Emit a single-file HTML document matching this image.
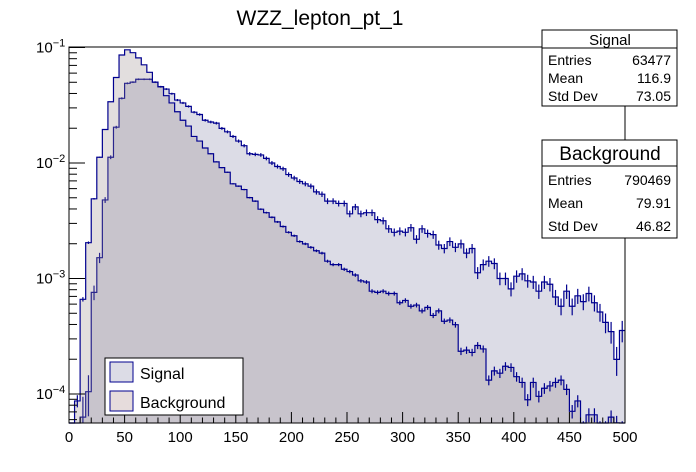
<!DOCTYPE html>
<html><head><meta charset="utf-8"><style>
body{margin:0;background:#fff;}
svg{display:block;font-family:"Liberation Sans",Arial,sans-serif;}
</style></head><body>
<svg id="c" width="696" height="472" viewBox="0 0 696 472">
<rect x="0" y="0" width="696" height="472" fill="#fff"/>
<text x="320" y="25" font-size="21" text-anchor="middle">WZZ_lepton_pt_1</text>
<g id="hist"></g>
<g id="axes"></g>
</svg>
<script>
const xTicks=[0,50,100,150,200,250,300,350,400,450,500];
const yDecades=[-1,-2,-3,-4];
const sigLog=[-5,-5,-4.2,-3.98,-3.12,-2.82,-2.32,-1.95,-1.69,-1.44,
-1.31,-1.30,-1.275,-1.275,-1.275,-1.30,-1.34,-1.36,-1.40,-1.455,
-1.48,-1.51,-1.56,-1.58,-1.63,-1.645,-1.655,-1.70,-1.73,-1.77,
-1.81,-1.85,-1.92,-1.925,-1.93,-1.96,-2.0,-2.03,-2.05,-2.10,
-2.13,-2.16,-2.18,-2.20,-2.25,-2.27,-2.33,-2.33,-2.35,-2.35,
-2.44,-2.38,-2.44,-2.43,-2.43,-2.49,-2.50,-2.57,-2.60,-2.59,
-2.60,-2.56,-2.66,-2.57,-2.61,-2.62,-2.71,-2.74,-2.68,-2.73,
-2.70,-2.78,-2.74,-2.95,-2.88,-2.85,-2.87,-3.00,-3.00,-3.09,
-2.98,-2.96,-3.02,-3.03,-3.11,-3.03,-3.05,-3.16,-3.24,-3.11,
-3.24,-3.15,-3.20,-3.13,-3.21,-3.29,-3.38,-3.46,-3.70,-3.45];
const bkgLog=[-5,-4.06,-3.18,-2.69,-2.31,-1.95,-1.71,-1.47,-1.26,-1.065,
-1.02,-1.045,-1.09,-1.15,-1.215,-1.30,-1.34,-1.417,-1.48,-1.556,
-1.63,-1.68,-1.77,-1.81,-1.87,-1.92,-1.99,-2.04,-2.08,-2.18,
-2.20,-2.23,-2.30,-2.33,-2.40,-2.43,-2.47,-2.51,-2.55,-2.60,
-2.63,-2.68,-2.70,-2.73,-2.76,-2.78,-2.85,-2.88,-2.88,-2.92,
-2.94,-2.97,-3.02,-3.03,-3.11,-3.12,-3.11,-3.13,-3.13,-3.21,
-3.19,-3.24,-3.23,-3.28,-3.25,-3.32,-3.28,-3.37,-3.36,-3.40,
-3.63,-3.62,-3.64,-3.58,-3.61,-3.88,-3.80,-3.82,-3.76,-3.77,
-3.85,-3.90,-4.05,-3.90,-4.02,-3.95,-3.93,-3.90,-3.88,-3.96,
-4.15,-4.06,-4.3,-4.18,-4.18,-4.3,-4.3,-4.2,-4.25,-4.3];
const sigEntries=63477, bkgEntries=790469;

const X0=69,X1=625,Y0=47,Y1=423,BW=5;
const NS='http://www.w3.org/2000/svg';
function xs(v){return X0+(v/500)*(X1-X0);}
function ys(l){let y=47.5+(-1-l)*115.5;return Math.max(Y0,Math.min(Y1,y));}
function mk(t,a,p){const e=document.createElementNS(NS,t);for(const k in a)e.setAttribute(k,a[k]);p.appendChild(e);return e;}
const H=document.getElementById('hist'),A=document.getElementById('axes');

function drawHist(arr,fill,name,entries){
  let d='M'+xs(0)+','+Y1;
  for(let i=0;i<arr.length;i++){const y=ys(arr[i]);d+=' L'+xs(i*BW)+','+y+' L'+xs((i+1)*BW)+','+y;}
  d+=' L'+xs(arr.length*BW)+','+Y1+' Z';
  const f=mk('path',{d:d,fill:fill},H);
  
  
  let ld='';
  for(let i=0;i<arr.length;i++){const y=ys(arr[i]);ld+=(i?' L':'M')+xs(i*BW)+','+y+' L'+xs((i+1)*BW)+','+y;}
  const l=mk('path',{d:ld,fill:'none',stroke:'#00008f','stroke-width':1.2},H);
  
  
  for(let i=0;i<arr.length;i++){
    if(arr[i]<-4.4)continue;
    const v=Math.pow(10,arr[i]);const n=v*entries;const r=1/Math.sqrt(Math.max(n,1));
    const hi=Math.log10(v*(1+r)),lo=Math.log10(Math.max(v*(1-r),1e-6));
    const cx=xs(i*BW+BW/2);
    const e=mk('line',{x1:cx,x2:cx,y1:ys(hi),y2:ys(lo),stroke:'#00008f','stroke-width':1.2},H);
    
    
  }
}
drawHist(sigLog,'#dcdce6','signal-hist',sigEntries);
drawHist(bkgLog,'rgba(150,135,138,0.28)','background-hist',bkgEntries);

const fr=mk('rect',{x:X0,y:Y0,width:X1-X0,height:Y1-Y0,fill:'none',stroke:'#000','stroke-width':1},A);


for(let v=0;v<=500;v+=10){
  const major=v%50===0;
  const t=mk('line',{x1:xs(v),x2:xs(v),y1:Y1,y2:Y1-(major?11:5.5),stroke:'#000'},A);
  
  
}
xTicks.forEach(v=>{
  const t=mk('text',{x:xs(v),y:442,'font-size':15,'text-anchor':'middle'},A);
  t.textContent=v;
  
  
});
yDecades.forEach(dcd=>{
  const y=ys(dcd);
  const t=mk('line',{x1:X0,x2:X0+16,y1:y,y2:y,stroke:'#000'},A);
  
  
  for(let m=2;m<=9;m++){
    const ym=47.5+(-1-(dcd-1+Math.log10(m)))*115.5;
    if(ym<Y0||ym>Y1)continue;
    const mt=mk('line',{x1:X0,x2:X0+8,y1:ym,y2:ym,stroke:'#000'},A);
    
    
  }
  const lab=mk('text',{x:36,y:y+5,'font-size':15},A);
  
  
  lab.innerHTML='10<tspan dy="-6" font-size="11">\u2212'+(-dcd)+'</tspan>';
});
</script>
<svg style="position:absolute;left:0;top:0" width="696" height="472">
<g font-family="Liberation Sans,Arial,sans-serif">
<g>
<rect x="542" y="30" width="135" height="76" fill="#fff" stroke="#000"/>
<line x1="542" y1="48" x2="677" y2="48" stroke="#000"/>
<text x="610" y="45" font-size="15" text-anchor="middle">Signal</text>
<text x="548" y="65" font-size="14">Entries</text><text x="671" y="65" font-size="14" text-anchor="end">63477</text>
<text x="548" y="83" font-size="14">Mean</text><text x="671" y="83" font-size="14" text-anchor="end">116.9</text>
<text x="548" y="101" font-size="14">Std Dev</text><text x="671" y="101" font-size="14" text-anchor="end">73.05</text>
</g>
<g>
<rect x="542" y="140" width="135" height="98" fill="#fff" stroke="#000"/>
<line x1="542" y1="166" x2="677" y2="166" stroke="#000"/>
<text x="610" y="160" font-size="19" text-anchor="middle">Background</text>
<text x="548" y="185" font-size="14">Entries</text><text x="671" y="185" font-size="14" text-anchor="end">790469</text>
<text x="548" y="208" font-size="14">Mean</text><text x="671" y="208" font-size="14" text-anchor="end">79.91</text>
<text x="548" y="231" font-size="14">Std Dev</text><text x="671" y="231" font-size="14" text-anchor="end">46.82</text>
</g>
<g>
<rect x="105" y="358" width="138" height="57" fill="#fff" stroke="#000"/>
<rect x="110" y="362" width="23" height="20" fill="#dcdce6" stroke="#00008f"/>
<text x="140" y="379" font-size="16">Signal</text>
<rect x="110" y="391" width="23" height="20" fill="#e6dcdc" stroke="#00008f"/>
<text x="140" y="408" font-size="16">Background</text>
</g>
</g>
</svg>
</body></html>
